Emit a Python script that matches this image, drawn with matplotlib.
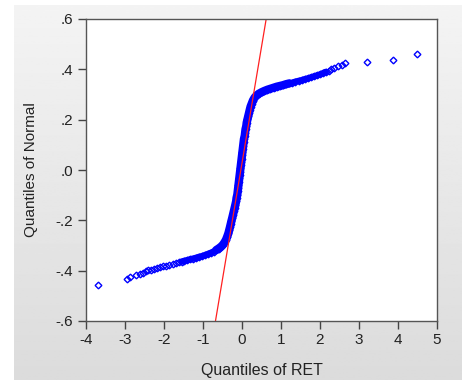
import numpy as np
import matplotlib
matplotlib.use('Agg')
import matplotlib.pyplot as plt

plt.rcParams['font.family'] = ['Liberation Sans', 'DejaVu Sans']
plt.rcParams['axes.unicode_minus'] = False

# quantiles of RET (x) against quantiles of Normal (y)
ret_q = [-3.70, -2.95, -2.86, -2.72, -2.62, -2.55, -2.47, -2.40, -2.33, -2.25,
         -2.18, -2.10, -2.02, -1.95, -1.86, -1.78, -1.70, -1.62, -1.55, -1.48,
         -1.40, -1.33, -1.25, -1.18, -1.10, -1.02, -0.95, -0.88, -0.80, -0.73,
         -0.66, -0.60, -0.54, -0.49, -0.45, -0.41, -0.38, -0.35, -0.33, -0.31,
         -0.29, -0.27, -0.25, -0.23, -0.21, -0.19, -0.17, -0.15, -0.14, -0.12,
         -0.11, -0.10, -0.09, -0.08, -0.07, -0.06, -0.05, -0.04, -0.03, -0.02,
         -0.01, 0.00, 0.01, 0.02, 0.03, 0.04, 0.05, 0.07, 0.08, 0.09,
         0.11, 0.12, 0.14, 0.16, 0.18, 0.20, 0.22, 0.25, 0.28, 0.32,
         0.37, 0.43, 0.50, 0.57, 0.65, 0.73, 0.81, 0.89, 0.97, 1.05,
         1.13, 1.21, 1.29, 1.37, 1.45, 1.53, 1.61, 1.69, 1.77, 1.85,
         1.93, 2.01, 2.08, 2.15, 2.22, 2.28, 2.35, 2.46, 2.56, 2.63,
         3.20, 3.86, 4.48]
norm_q = [-0.457, -0.434, -0.426, -0.418, -0.412, -0.408, -0.403, -0.399, -0.396, -0.392,
          -0.389, -0.386, -0.383, -0.380, -0.376, -0.373, -0.370, -0.367, -0.364, -0.361,
          -0.358, -0.355, -0.352, -0.349, -0.345, -0.342, -0.338, -0.334, -0.329, -0.324,
          -0.318, -0.312, -0.305, -0.297, -0.288, -0.277, -0.265, -0.252, -0.240, -0.228,
          -0.215, -0.202, -0.190, -0.177, -0.164, -0.151, -0.138, -0.124, -0.111, -0.098,
          -0.085, -0.072, -0.059, -0.046, -0.033, -0.020, -0.007, 0.006, 0.019, 0.032,
          0.045, 0.058, 0.071, 0.084, 0.097, 0.110, 0.123, 0.136, 0.149, 0.162,
          0.175, 0.188, 0.201, 0.214, 0.227, 0.240, 0.252, 0.264, 0.276, 0.287,
          0.296, 0.303, 0.309, 0.314, 0.319, 0.323, 0.327, 0.331, 0.334, 0.337,
          0.341, 0.344, 0.347, 0.351, 0.354, 0.357, 0.361, 0.364, 0.368, 0.372,
          0.376, 0.380, 0.385, 0.390, 0.395, 0.400, 0.405, 0.414, 0.419, 0.425,
          0.428, 0.439, 0.462]

# reference line end points
line_x = [-0.68, 0.62]
line_y = [-0.60, 0.60]

xticks = [-4, -3, -2, -1, 0, 1, 2, 3, 4, 5]
yticks = [0.6, 0.4, 0.2, 0.0, -0.2, -0.4, -0.6]
ytick_labels = ['.6', '.4', '.2', '.0', '-.2', '-.4', '-.6']

fig = plt.figure(figsize=(4.62, 3.80), dpi=100, facecolor='white')

# grey gradient panel behind the chart
bg = fig.add_axes([14 / 462, 0, 1 - 14 / 462, 1 - 5 / 380])
grad = np.linspace(0.955, 0.86, 256).reshape(-1, 1)
bg.imshow(grad, aspect='auto', cmap='gray', vmin=0, vmax=1, extent=[0, 1, 0, 1])
bg.axis('off')

ax = fig.add_axes([86 / 462, 1 - 321 / 380, (437 - 86) / 462, (321 - 19) / 380])
ax.set_facecolor('white')

# the crowded middle of the sample shows as a solid band
ax.plot(ret_q[18:104], norm_q[18:104], color='#0000ff', linewidth=4.6,
        solid_capstyle='round', solid_joinstyle='round')
ax.plot(ret_q[30:92], norm_q[30:92], color='#0000ff', linewidth=6.0,
        solid_capstyle='round', solid_joinstyle='round')
ax.plot(ret_q, norm_q, linestyle='none', marker='D', markersize=3.4,
        markerfacecolor='none', markeredgecolor='#0000ff', markeredgewidth=1.0)
ax.plot(line_x, line_y, color='#ff2020', linewidth=0.9)

ax.set_xlim(-4, 5)
ax.set_ylim(-0.6, 0.6)
ax.set_xticks(xticks)
ax.set_yticks(yticks)
ax.set_yticklabels(ytick_labels)
ax.tick_params(direction='out', length=6, width=1, color='#444444',
               labelsize=11, labelcolor='#222222', pad=3)

for s in ax.spines.values():
    s.set_color('#555555')
    s.set_linewidth(1.0)

ax.set_xlabel('Quantiles of RET', fontsize=11.5, color='#222222', labelpad=11)
ax.set_ylabel('Quantiles of Normal', fontsize=11, color='#222222', labelpad=13)

fig.savefig('out.png', dpi=100, facecolor=fig.get_facecolor())
